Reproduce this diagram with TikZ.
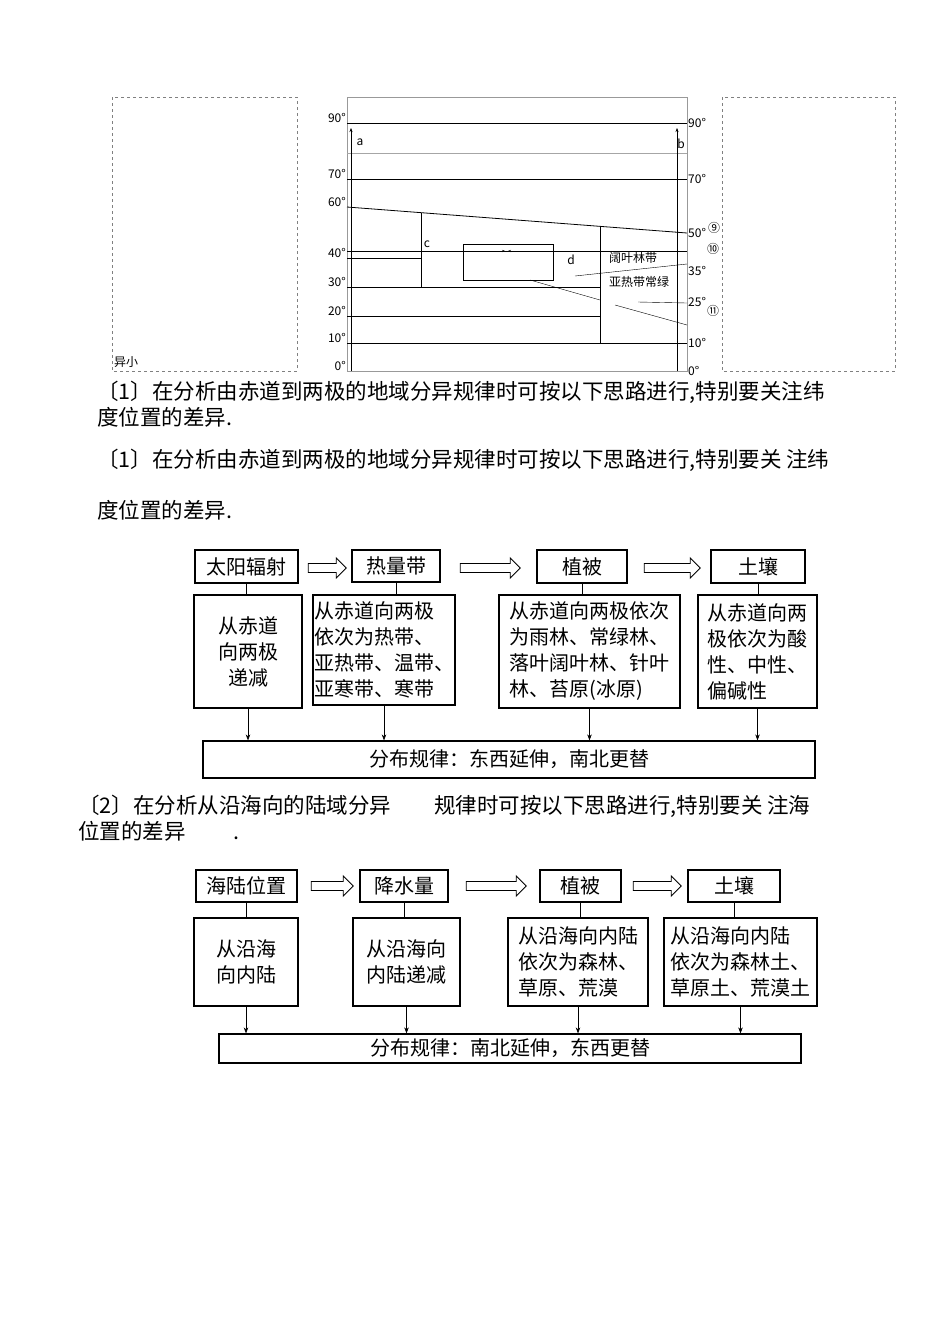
\documentclass[tikz,border=0pt]{standalone}
\usepackage{fontspec}
\setmainfont{Noto Sans CJK SC}
\usetikzlibrary{arrows.meta,shapes.arrows}
\begin{document}
\begin{tikzpicture}[x=1pt,y=-1pt,
  bx/.style={draw,line width=1.2pt,inner sep=3pt},
  txt/.style={anchor=west,font=\fontsize{21.5}{24}\selectfont,inner sep=0pt},
  fl/.style={font=\fontsize{20}{26}\selectfont,align=left},
  lab/.style={font=\fontsize{12}{14}\selectfont,inner sep=1pt},
  har/.style={draw,single arrow,minimum height=38pt,minimum width=20pt,single arrow head extend=3pt,inner sep=2pt,line width=0.9pt},
  va/.style={-{Stealth[length=6pt]},line width=0.6pt}]
\useasboundingbox (0,0) rectangle (950,1318);
% ===== top figure =====
\draw[dashed,gray] (112,97) rectangle (297,371);
\draw[dashed,gray] (722,97) rectangle (895,371);
\node[lab,anchor=south west] at (113,369) {异小};
\draw[gray!80,line width=0.8pt] (347,97) rectangle (687,371);
\draw[line width=0.8pt] (347,123) -- (687,123);
\draw[gray!70] (347,153) -- (687,153);
\draw[line width=0.8pt] (347,179) -- (687,179);
\draw[line width=0.8pt] (347,207) -- (687,233);
\draw[line width=0.8pt] (421,213) -- (421,287);
\draw[line width=0.8pt] (600,227) -- (600,343);
\draw (347,251) -- (687,251);
\draw (347,258) -- (421,258);
\draw[line width=0.8pt] (347,287) -- (600,287);
\draw (347,316) -- (600,316);
\draw (347,343) -- (687,343);
\draw (463,244) rectangle (553,280);
\draw[-{Stealth[length=3pt]}] (495,251) -- (505,251);
\draw[-{Stealth[length=3pt]}] (518,251) -- (508,251);
\draw (575,276) -- (687,264);
\draw (530,280) -- (600,300);
\draw (615,305) -- (687,325);
\draw (638,302) -- (687,303);
\draw[-{Stealth[length=4pt]}] (351,371) -- (351,128);
\draw[-{Stealth[length=4pt]}] (677,371) -- (677,128);
\foreach \y/\t in {123/90°,179/70°,207/60°,258/40°,287/30°,316/20°,343/10°,371/0°}
  \node[lab,anchor=east] at (347,\y-5) {\t};
\foreach \y/\t in {123/90°,179/70°,233/50°,271/35°,302/25°,343/10°,371/0°}
  \node[lab,anchor=west] at (687,\y) {\t};
\node[lab] at (360,142) {a};
\node[lab] at (681,144) {b};
\node[lab] at (427,244) {c};
\node[lab] at (571,260) {d};
\node[lab,anchor=west] at (608,258) {阔叶林带};
\node[lab,anchor=west] at (608,282) {亚热带常绿};
\node[lab] at (714,228) {⑨};
\node[lab] at (713,249) {⑩};
\node[lab] at (713,311) {⑪};
% ===== texts =====
\node[txt] at (97,392) {〔1〕在分析由赤道到两极的地域分异规律时可按以下思路进行,特别要关注纬};
\node[txt] at (97,417) {度位置的差异.};
\node[txt] at (97,460) {〔1〕在分析由赤道到两极的地域分异规律时可按以下思路进行,特别要关\ 注纬};
\node[txt] at (97,510) {度位置的差异.};
\node[txt] at (78,806) {〔2〕在分析从沿海向的陆域分异\qquad 规律时可按以下思路进行,特别要关\ 注海};
\node[txt] at (78,831) {位置的差异\qquad\ .};
% ===== flow 1 =====
\node[bx,fl,minimum width=103pt,minimum height=33pt,align=center] (h1) at (246.5,566.5) {太阳辐射};
\node[bx,fl,minimum width=88pt,minimum height=32pt,align=center] (h2) at (396,566) {热量带};
\node[bx,fl,minimum width=90pt,minimum height=33pt,align=center] (h3) at (582,566.5) {植被};
\node[bx,fl,minimum width=94pt,minimum height=33pt,align=center] (h4) at (758,566.5) {土壤};
\node[bx,fl,minimum width=108pt,minimum height=113pt,align=center] (c1) at (248,651.5) {从赤道\\向两极\\递减};
\node[bx,fl,minimum width=112pt,minimum height=110pt,inner sep=1pt] (c2) at (384,650) {从赤道向两极\\依次为热带、\\亚热带、温带、\\亚寒带、寒带};
\node[bx,fl,minimum width=181pt,minimum height=113pt] (c3) at (589.5,651.5) {从赤道向两极依次\\为雨林、常绿林、\\落叶阔叶林、针叶\\林、苔原(冰原)};
\node[bx,fl,minimum width=119pt,minimum height=113pt] (c4) at (757.5,651.5) {从赤道向两\\极依次为酸\\性、中性、\\偏碱性};
\node[bx,fl,minimum width=612pt,minimum height=37pt,align=center] (b1) at (509,759.5) {分布规律：东西延伸，南北更替};
\node[har] at (325,568) {};
\node[har,minimum height=60pt] at (488,568) {};
\node[har,minimum height=56pt] at (670,568) {};
\foreach \i in {1,2,3,4} \draw[line width=0.8pt] (h\i.south) -- (h\i.south |- c\i.north);
\foreach \i in {1,2,3,4} \draw[va] (c\i.south) -- (c\i.south |- b1.north);
% ===== flow 2 =====
\node[bx,fl,minimum width=101pt,minimum height=32pt,align=center] (g1) at (246.5,886) {海陆位置};
\node[bx,fl,minimum width=88pt,minimum height=32pt,align=center] (g2) at (404,886) {降水量};
\node[bx,fl,minimum width=81pt,minimum height=32pt,align=center] (g3) at (580.5,886) {植被};
\node[bx,fl,minimum width=92pt,minimum height=32pt,align=center] (g4) at (734,886) {土壤};
\node[bx,fl,minimum width=104pt,minimum height=88pt,align=center] (d1) at (246,962) {从沿海\\向内陆};
\node[bx,fl,minimum width=107pt,minimum height=88pt,align=center] (d2) at (406.5,962) {从沿海向\\内陆递减};
\node[bx,fl,minimum width=140pt,minimum height=88pt] (d3) at (578,962) {从沿海向内陆\\依次为森林、\\草原、荒漠};
\node[bx,fl,minimum width=153pt,minimum height=88pt] (d4) at (740.5,962) {从沿海向内陆\\依次为森林土、\\草原土、荒漠土};
\node[bx,fl,minimum width=582pt,minimum height=29pt,align=center,inner sep=0pt] (b2) at (510,1048.5) {分布规律：南北延伸，东西更替};
\node[har,minimum height=42pt] at (330,886) {};
\node[har,minimum height=60pt] at (494,886) {};
\node[har,minimum height=48pt] at (655,886) {};
\foreach \i in {1,2,3,4} \draw[line width=0.8pt] (g\i.south) -- (g\i.south |- d\i.north);
\foreach \i in {1,2,3,4} \draw[va] (d\i.south) -- (d\i.south |- b2.north);
\end{tikzpicture}
\end{document}
